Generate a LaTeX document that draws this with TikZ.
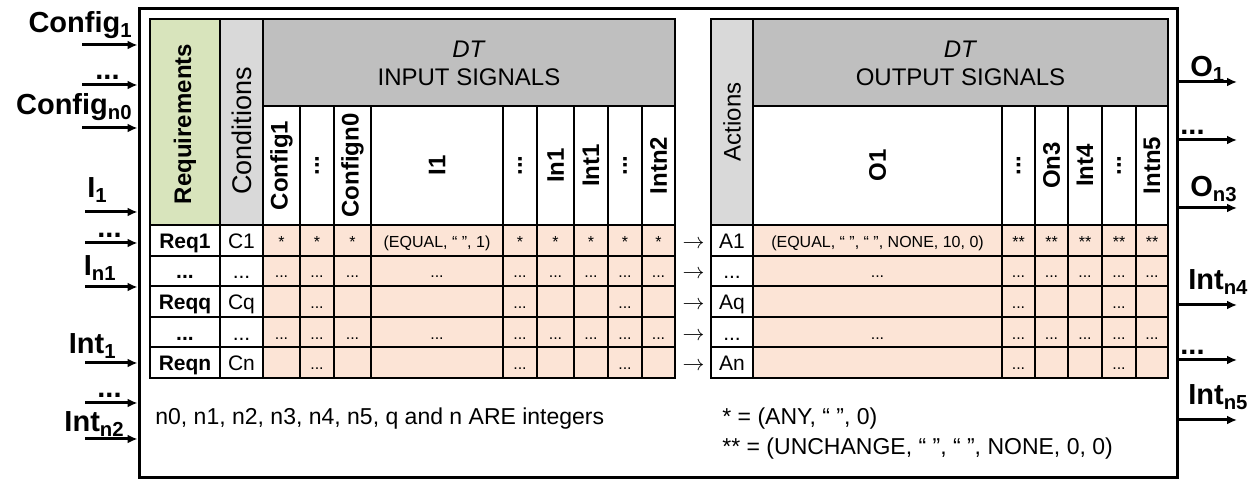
\documentclass[tikz,border=0pt]{standalone}
\usepackage{fontspec}
\setmainfont{Liberation Sans}
\usepackage{tikz}
\usetikzlibrary{arrows.meta,positioning}

\definecolor{hdrgray}{HTML}{BFBFBF}
\definecolor{sidegray}{HTML}{D9D9D9}
\definecolor{reqgreen}{HTML}{D8E4BC}
\definecolor{peach}{HTML}{FCE4D6}
\newcommand{\dotsig}{...}

\begin{document}
\begin{tikzpicture}[
    x=0.5pt, y=-0.5pt,
    grid/.style={draw, line width=1pt},
    frame/.style={draw, line width=1.4pt},
    sig/.style={-{Latex[length=5pt,width=4.5pt]}, line width=1.5pt},
    port/.style={font=\fontsize{14.5}{16}\selectfont\bfseries, inner sep=0pt},
    colname/.style={rotate=90, font=\fontsize{12}{14}\selectfont\bfseries, inner sep=0pt},
    sidename/.style={rotate=90, font=\fontsize{12}{14}\selectfont, inner sep=0pt},
    val/.style={font=\fontsize{8}{9}\selectfont, inner sep=0pt, text height=7pt, text depth=0pt},
    rowlbl/.style={font=\fontsize{10.5}{12}\selectfont, inner sep=0pt, text height=8pt, text depth=0pt},
    note/.style={font=\fontsize{11.5}{14}\selectfont, inner sep=0pt, anchor=base west}
]
\useasboundingbox (0,0) rectangle (1254,480);

% outer block
\node[frame, line width=1.5pt, minimum width=519pt, minimum height=234.5pt, inner sep=0pt] (blk) at (658,243.5) {};

% side columns and headers
\draw[grid, fill=reqgreen] (150,19) rectangle (220,225);
\draw[grid, fill=sidegray] (220,19) rectangle (263,225);
\draw[grid, fill=sidegray] (711,19) rectangle (753,225);
\draw[grid, fill=hdrgray] (263,19) rectangle (675,106);
\draw[grid, fill=hdrgray] (753,19) rectangle (1168,106);
\node[colname] (req) at (185,124) {Requirements};
\node[sidename, font=\fontsize{13.5}{15}\selectfont] (cond) at (241.5,131) {Conditions};
\node[sidename] (act) at (732,122) {Actions};
\node[align=center, font=\fontsize{12}{14}\selectfont] (inhdr) at (469,63) {\textit{DT}\\INPUT SIGNALS};
\node[align=center, font=\fontsize{12}{14}\selectfont] (outhdr) at (960.5,63) {\textit{DT}\\OUTPUT SIGNALS};

% signal names
\foreach \xa/\xb/\t [count=\c] in {263/300/Config1, 300/334/\dotsig, 334/371/Confign0, 371/503/I1, 503/537/\dotsig, 537/574/In1, 574/608/Int1, 608/642/\dotsig, 642/675/Intn2, 753/1002/O1, 1002/1035/\dotsig, 1035/1068/On3, 1068/1102/Int4, 1102/1136/\dotsig, 1136/1168/Intn5} {
    \draw[grid] (\xa,106) rectangle (\xb,225);
    \node[colname] (col\c) at ({(\xa+\xb)/2},165.5) {\t};
}

% body cells
\foreach \ya/\yb in {225/255.6, 255.6/286.2, 286.2/316.8, 316.8/347.4, 347.4/378} {
    \draw[grid] (150,\ya) rectangle (220,\yb);
    \draw[grid] (220,\ya) rectangle (263,\yb);
    \draw[grid] (711,\ya) rectangle (753,\yb);
    \foreach \xa/\xb in {263/300, 300/334, 334/371, 371/503, 503/537, 537/574, 574/608, 608/642, 642/675, 753/1002, 1002/1035, 1035/1068, 1068/1102, 1102/1136, 1136/1168}
        \draw[grid, fill=peach] (\xa,\ya) rectangle (\xb,\yb);
}
\draw[frame] (150,19) rectangle (675,378);
\draw[frame] (711,19) rectangle (1168,378);

% row labels
\foreach \r/\yc/\rq/\cd/\ac in {1/240.3/Req1/C1/A1, 2/270.9/\dotsig/\dotsig/\dotsig, 3/301.5/Reqq/Cq/Aq, 4/332.1/\dotsig/\dotsig/\dotsig, 5/362.7/Reqn/Cn/An} {
    \node[rowlbl, font=\fontsize{10.5}{12}\selectfont\bfseries] (req\r) at (185,\yc) {\rq};
    \node[rowlbl] (cond\r) at (241.5,\yc) {\cd};
    \node[rowlbl, font=\fontsize{11}{12}\selectfont] (to\r) at (693.5,\yc) {$\rightarrow$};
    \node[rowlbl] (act\r) at (732,\yc) {\ac};
}

% cell values
\foreach \x/\t [count=\c] in {281.5/*, 317/*, 352.5/*, 437/{(EQUAL, “ ”, 1)}, 520/*, 555.5/*, 591/*, 625/*, 658.5/*, 877.5/{(EQUAL, “ ”, “ ”, NONE, 10, 0)}, 1018.5/**, 1051.5/**, 1085/**, 1119/**, 1152/**}
    \node[val] (v1-\c) at (\x,240.3) {\t};
\foreach \r/\yc in {2/270.9, 4/332.1}
    \foreach \x [count=\c] in {281.5, 317, 352.5, 437, 520, 555.5, 591, 625, 658.5, 877.5, 1018.5, 1051.5, 1085, 1119, 1152}
        \node[val] (v\r-\c) at (\x,\yc) {\dotsig};
\foreach \r/\yc in {3/301.5, 5/362.7}
    \foreach \x [count=\c] in {317, 520, 625, 1018.5, 1119}
        \node[val] (v\r-\c) at (\x,\yc) {\dotsig};

% input ports
\foreach \y/\xs/\xr/\yb/\t [count=\i] in {45/82/133/33/{Config\textsubscript{1}}, 85/82/120/80/\dotsig, 128/82/133/115/{Config\textsubscript{n0}}, 212/85/108/198/{I\textsubscript{1}}, 243/85/122/238/\dotsig, 287/85/117/276/{I\textsubscript{n1}}, 363/85/117/354/{Int\textsubscript{1}}, 403/85/122/398/\dotsig, 439/85/125/432/{Int\textsubscript{n2}}} {
    \coordinate (in\i) at (\xs,\y);
    \node[port, anchor=base east] (inlbl\i) at (\xr,\yb) {\t};
    \draw[sig] (in\i) -- (in\i -| blk.west);
}

% output ports
\foreach \y/\xl/\yb/\t [count=\i] in {82/1190/77/{O\textsubscript{1}}, 140/1180/135/\dotsig, 208/1190/197/{O\textsubscript{n3}}, 305/1188/290/{Int\textsubscript{n4}}, 360/1180/355/\dotsig, 420/1188/405/{Int\textsubscript{n5}}} {
    \coordinate (out\i) at (1237,\y);
    \node[port, anchor=base west] (outlbl\i) at (\xl,\yb) {\t};
    \draw[sig] (out\i -| blk.east) -- (out\i);
}

% notes
\node[note] (intnote) at (155,425) {n0, n1, n2, n3, n4, n5, q and n ARE integers};
\node[note] (anynote) at (722,425) {* = (ANY, “ ”, 0)};
\node[note] (keepnote) at (722,455) {** = (UNCHANGE, “ ”, “ ”, NONE, 0, 0)};
\end{tikzpicture}
\end{document}
